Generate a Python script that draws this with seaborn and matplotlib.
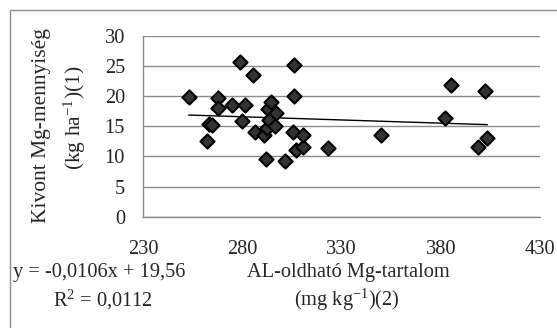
"""Kivont Mg-mennyiség vs AL-oldható Mg-tartalom."""

import matplotlib.pyplot as plt
import seaborn as sns
from matplotlib.lines import Line2D

# AL-oldhato Mg-tartalom (mg/kg) es kivont Mg-mennyiseg (kg/ha)
mg_al = [253, 262, 263, 265, 268, 268, 275, 278.9, 279.7, 281.4, 285.6, 286.4,
         290.9, 292.0, 292.3, 293.1, 293.6, 294.3, 296.5, 297.0, 301.7, 305.7,
         306.2, 306.2, 307.0, 310.5, 310.8, 323.0, 349.7, 382.1, 385.0, 399.0,
         402.2, 403.5]
mg_kivont = [19.8, 12.6, 15.4, 15.2, 19.7, 18.0, 18.5, 25.7, 15.9, 18.5, 23.6,
             14.0, 13.5, 9.6, 14.7, 17.9, 16.0, 19.1, 15.1, 17.2, 9.3, 14.1,
             25.2, 20.1, 11.1, 11.5, 13.5, 11.4, 13.6, 16.4, 21.9, 11.6, 20.8,
             13.1]

# linearis trend (Excel)
slope = -0.0106
intercept = 19.56

x_ticks = [230, 280, 330, 380, 430]
y_ticks = [0, 5, 10, 15, 20, 25, 30]

sns.set_style("white")
plt.rcParams["font.family"] = ["Liberation Serif", "DejaVu Serif"]
plt.rcParams["mathtext.default"] = "regular"
fs = 14.7

W, H = 557, 328
fig = plt.figure(figsize=(W / 100, H / 100), dpi=100)
ax = fig.add_axes([143 / W, 1 - 216.7 / H, (540 - 143) / W, (216.7 - 36) / H])

ax.grid(axis="y", color="#8c8c8c", lw=1)
ax.set_axisbelow(True)

sns.scatterplot(x=mg_al, y=mg_kivont, ax=ax, marker="D", s=52,
                color="#333333", edgecolor="black", linewidth=1.5, zorder=3)
x_line = [min(mg_al), max(mg_al)]
y_line = [slope * v + intercept for v in x_line]
sns.lineplot(x=x_line, y=y_line, ax=ax, color="black", lw=1, zorder=2)

ax.set_xlim(230, 430)
ax.set_ylim(0, 30)
ax.set_xticks(x_ticks)
ax.set_yticks(y_ticks)
ax.tick_params(axis="x", length=0, pad=17, labelsize=fs)
ax.tick_params(axis="y", length=0, pad=13, labelsize=fs)
for side in ["top", "right"]:
    ax.spines[side].set_visible(False)
for side in ["left", "bottom"]:
    ax.spines[side].set_color("#8c8c8c")
    ax.spines[side].set_linewidth(1)

# tengelyfeliratok
fig.text(42 / W, 1 - 126 / H, "Kivont Mg-mennyiség", rotation=90,
         ha="center", va="center", fontsize=fs + 0.8)
fig.text(75 / W, 1 - 118 / H, "(kg ha$^{-1}$)(1)", rotation=90,
         ha="center", va="center", fontsize=fs + 0.8)
fig.text(348 / W, 1 - 273 / H, "AL-oldható Mg-tartalom",
         ha="center", va="center", fontsize=fs)
fig.text(347 / W, 1 - 300 / H, "(mg kg$^{-1}$)(2)",
         ha="center", va="center", fontsize=fs)

# egyenlet es R2
fig.text(13 / W, 1 - 273 / H, "y = -0,0106x + 19,56",
         ha="left", va="center", fontsize=fs)
fig.text(103 / W, 1 - 300 / H, "R$^2$ = 0,0112",
         ha="center", va="center", fontsize=fs)

# diagram keret
fig.add_artist(Line2D([10 / W, 10 / W], [0, 1 - 10 / H], color="#8c8c8c", lw=1))
fig.add_artist(Line2D([10 / W, 1], [1 - 10 / H, 1 - 10 / H], color="#8c8c8c", lw=1))

plt.savefig("out.png", dpi=100)
